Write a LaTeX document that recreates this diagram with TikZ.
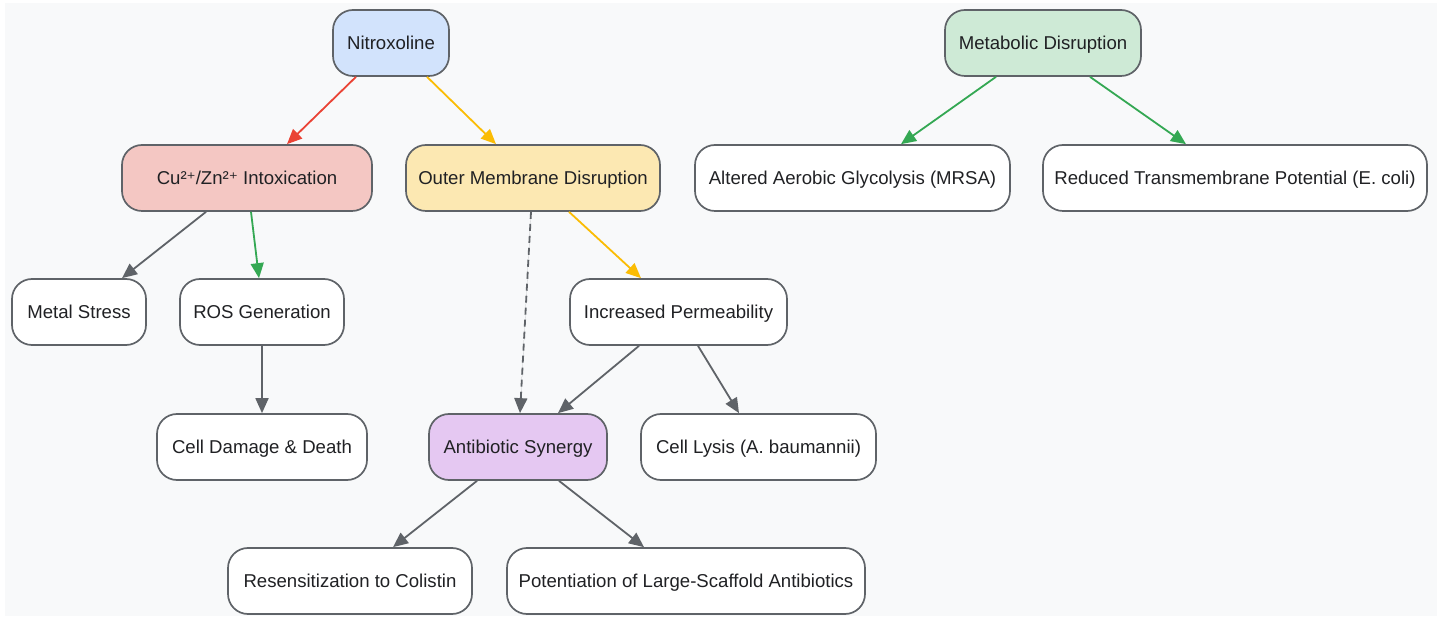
\documentclass[tikz,border=0pt]{standalone}
\usepackage{fontspec}
\setmainfont{Liberation Sans}
\newfontfamily\dvs{DejaVu Sans}
\usetikzlibrary{arrows.meta,calc}
\definecolor{bgc}{HTML}{F8F9FA}
\definecolor{edgec}{HTML}{5F6368}
\definecolor{txtc}{HTML}{202124}
\definecolor{redc}{HTML}{EA4335}
\definecolor{yelc}{HTML}{FBBC04}
\definecolor{grnc}{HTML}{34A853}
\definecolor{fblue}{HTML}{D2E3FC}
\definecolor{fred}{HTML}{F4C7C3}
\definecolor{fyel}{HTML}{FCE8B2}
\definecolor{fgrn}{HTML}{CEEAD6}
\definecolor{fpur}{HTML}{E5C8F2}
\newcommand{\supplus}{{\dvs\fontsize{8.6}{11}\selectfont ⁺}}
\begin{document}
\begin{tikzpicture}[x=0.5pt,y=-0.5pt,
  box/.style={draw=edgec,line width=0.85pt,rounded corners=10pt,fill=white,
    minimum height=33pt,inner xsep=0pt,inner ysep=0pt,text=txtc,
    text height=6.66pt,text depth=0pt,
    font=\fontsize{9.3}{11}\selectfont},
  conn/.style={line width=0.9pt,-{Triangle[length=7.5pt,width=6.5pt]}},
  gray/.style={conn,draw=edgec,fill=edgec},
  red/.style={conn,draw=redc,fill=redc},
  yel/.style={conn,draw=yelc,fill=yelc},
  grn/.style={conn,draw=grnc,fill=grnc},
  dsh/.style={gray,dash pattern=on 3.5pt off 2.5pt}]
\useasboundingbox (0,0) rectangle (1444,619);
\fill[bgc] (5,3) rectangle (1437,616);

\node[box,fill=fblue,minimum width=58pt] (nitro) at (391,43) {Nitroxoline};
\node[box,fill=fgrn,minimum width=98pt] (meta) at (1043,43) {Metabolic Disruption};
\node[box,fill=fred,minimum width=125pt] (cu) at (247,178) {Cu²\supplus/Zn²\supplus\ Intoxication};
\node[box,fill=fyel,minimum width=127pt] (outer) at (533,178) {Outer Membrane Disruption};
\node[box,minimum width=157.5pt] (alt) at (852.5,178) {Altered Aerobic Glycolysis (MRSA)};
\node[box,minimum width=192pt] (red) at (1235,178) {Reduced Transmembrane Potential (E. coli)};
\node[box,minimum width=67pt] (metal) at (79,312) {Metal Stress};
\node[box,minimum width=82pt] (ros) at (262,312) {ROS Generation};
\node[box,minimum width=108.5pt] (incr) at (678.5,312) {Increased Permeability};
\node[box,minimum width=105pt] (dmg) at (262,447) {Cell Damage \& Death};
\node[box,fill=fpur,minimum width=89pt] (syn) at (518,447) {Antibiotic Synergy};
\node[box,minimum width=117.5pt] (lys) at (758.5,447) {Cell Lysis (A. baumannii)};
\node[box,minimum width=122pt] (res) at (350,581) {Resensitization to Colistin};
\node[box,minimum width=179pt] (pot) at (686,581) {Potentiation of Large-Scaffold Antibiotics};

\draw[red] ($(nitro.south)+(-35,0)$) -- ($(cu.north)+(40,0)$);
\draw[yel] ($(nitro.south)+(36,0)$) -- ($(outer.north)+(-37,0)$);
\draw[gray] ($(cu.south)+(-41,0)$) -- ($(metal.north)+(43,0)$);
\draw[grn] ($(cu.south)+(4,0)$) -- ($(ros.north)+(-3,0)$);
\draw[gray] (ros.south) -- (dmg.north);
\draw[dsh] ($(outer.south)+(-2,0)$) -- ($(syn.north)+(2,0)$);
\draw[yel] ($(outer.south)+(36,0)$) -- ($(incr.north)+(-37.5,0)$);
\draw[gray] ($(incr.south)+(-39.5,0)$) -- ($(syn.north)+(40,0)$);
\draw[gray] ($(incr.south)+(19.5,0)$) -- ($(lys.north)+(-19.5,0)$);
\draw[gray] ($(syn.south)+(-41,0)$) -- ($(res.north)+(43,0)$);
\draw[gray] ($(syn.south)+(41,0)$) -- ($(pot.north)+(-42,0)$);
\draw[grn] ($(meta.south)+(-47,0)$) -- ($(alt.north)+(48.5,0)$);
\draw[grn] ($(meta.south)+(47,0)$) -- ($(red.north)+(-49,0)$);
\end{tikzpicture}
\end{document}
